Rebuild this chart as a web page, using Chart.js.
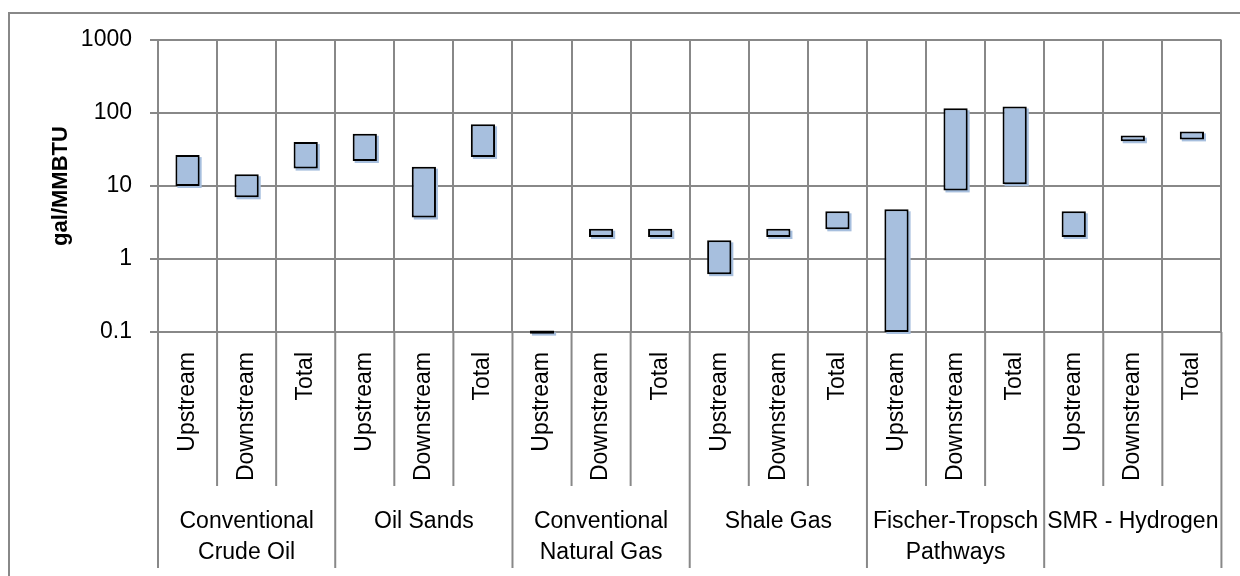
<!DOCTYPE html>
<html>
<head>
<meta charset="utf-8">
<script src="https://cdn.jsdelivr.net/npm/chart.js@4/dist/chart.umd.min.js"></script>
<style>
  html, body { margin: 0; padding: 0; background: #fff; }
  #wrap { position: relative; width: 1240px; height: 576px; }
</style>
</head>
<body>
<div id="wrap"><canvas id="chart"></canvas></div>
<script>
// data
const groups = [
  ['Conventional', 'Crude Oil'],
  'Oil Sands',
  ['Conventional', 'Natural Gas'],
  'Shale Gas',
  ['Fischer-Tropsch', 'Pathways'],
  'SMR - Hydrogen'
];
const stages = ['Upstream', 'Downstream', 'Total'];
const lowValues = [
  10, 7, 17.3,
  22, 3.7, 25,
  0.095, 2.0, 2.0,
  0.62, 2.0, 2.55,
  0.1, 8.7, 10.6,
  2.0, 41, 43.5
];
const highValues = [
  26.5, 14.5, 40,
  52, 18.4, 70,
  0.105, 2.6, 2.6,
  1.8, 2.6, 4.5,
  4.8, 116, 123,
  4.5, 49, 56
];
const yTicks = [0.1, 1, 10, 100, 1000];

const labels = [];
groups.forEach(function () { stages.forEach(function (s) { labels.push(s); }); });
const ranges = lowValues.map(function (lo, i) { return [lo, highValues[i]]; });

const gridColor = '#888888';
const barColor = '#a7bfde';
const fontFamily = '"Liberation Sans", Arial, sans-serif';

// outer frame + category separators under the plot
const framePlugin = {
  id: 'frame',
  beforeDraw: function (chart) {
    const ctx = chart.ctx;
    ctx.save();
    ctx.strokeStyle = gridColor;
    ctx.lineWidth = 2;
    ctx.beginPath();
    ctx.moveTo(9, 580);
    ctx.lineTo(9, 13);
    ctx.lineTo(1245, 13);
    ctx.stroke();
    ctx.restore();
  },
  afterDraw: function (chart) {
    const ctx = chart.ctx;
    const x = chart.scales.x;
    const x2 = chart.scales.x2;
    const half = (x.getPixelForValue(1) - x.getPixelForValue(0)) / 2;
    ctx.save();
    ctx.strokeStyle = gridColor;
    ctx.lineWidth = 2;
    for (let i = 0; i <= labels.length; i++) {
      const px = i < labels.length ? x.getPixelForValue(i) - half : x.getPixelForValue(i - 1) + half;
      const bottom = (i % stages.length === 0) ? x2.bottom : x.bottom;
      ctx.beginPath();
      ctx.moveTo(px, chart.chartArea.bottom);
      ctx.lineTo(px, bottom);
      ctx.stroke();
    }
    ctx.restore();
  }
};

// offset shadow behind each bar, taken from the bar elements
const shadowPlugin = {
  id: 'barShadow',
  beforeDatasetsDraw: function (chart) {
    const ctx = chart.ctx;
    ctx.save();
    ctx.fillStyle = barColor;
    chart.getDatasetMeta(0).data.forEach(function (bar) {
      const top = Math.min(bar.y, bar.base);
      const h = Math.abs(bar.base - bar.y);
      ctx.fillRect(bar.x - bar.width / 2 + 2, top + 2, bar.width, h);
    });
    ctx.restore();
  }
};

new Chart(document.getElementById('chart'), {
  type: 'bar',
  data: {
    labels: labels,
    datasets: [{
      data: ranges,
      backgroundColor: barColor,
      borderColor: '#000000',
      borderWidth: 2,
      borderSkipped: false,
      barPercentage: 0.41,
      categoryPercentage: 1,
      clip: false
    }]
  },
  options: {
    responsive: true,
    maintainAspectRatio: false,
    animation: false,
    layout: { padding: { left: 0, right: 18, top: 40, bottom: 8 } },
    plugins: {
      legend: { display: false },
      tooltip: { enabled: false }
    },
    scales: {
      x: {
        type: 'category',
        weight: 0,
        offset: true,
        grid: { color: gridColor, lineWidth: 2, offset: true, drawTicks: false },
        border: { display: false },
        ticks: {
          color: '#000',
          font: { family: fontFamily, size: 23 },
          minRotation: 90,
          maxRotation: 90,
          autoSkip: false,
          padding: 20
        },
        afterFit: function (scale) { scale.height = 154; }
      },
      x2: {
        type: 'category',
        position: 'bottom',
        weight: 1,
        labels: groups,
        offset: true,
        grid: { display: false, drawTicks: false },
        border: { display: false },
        ticks: {
          color: '#000',
          font: { family: fontFamily, size: 23, lineHeight: 1.35 },
          maxRotation: 0,
          autoSkip: false,
          padding: 20
        },
        afterFit: function (scale) { scale.height = 82; }
      },
      y: {
        type: 'logarithmic',
        min: 0.1,
        max: 1000,
        grid: { color: gridColor, lineWidth: 2, tickLength: 8 },
        border: { color: gridColor, width: 2 },
        afterBuildTicks: function (scale) {
          scale.ticks = yTicks.map(function (v) { return { value: v }; });
        },
        ticks: {
          color: '#000',
          font: { family: fontFamily, size: 23 },
          padding: 18,
          callback: function (v) { return String(v); }
        },
        title: {
          display: true,
          text: 'gal/MMBTU',
          color: '#000',
          font: { family: fontFamily, size: 22, weight: 'bold' },
          padding: { top: 48, bottom: 0 }
        },
        afterFit: function (scale) { scale.width = 158; }
      }
    }
  },
  plugins: [framePlugin, shadowPlugin]
});
</script>
</body>
</html>
